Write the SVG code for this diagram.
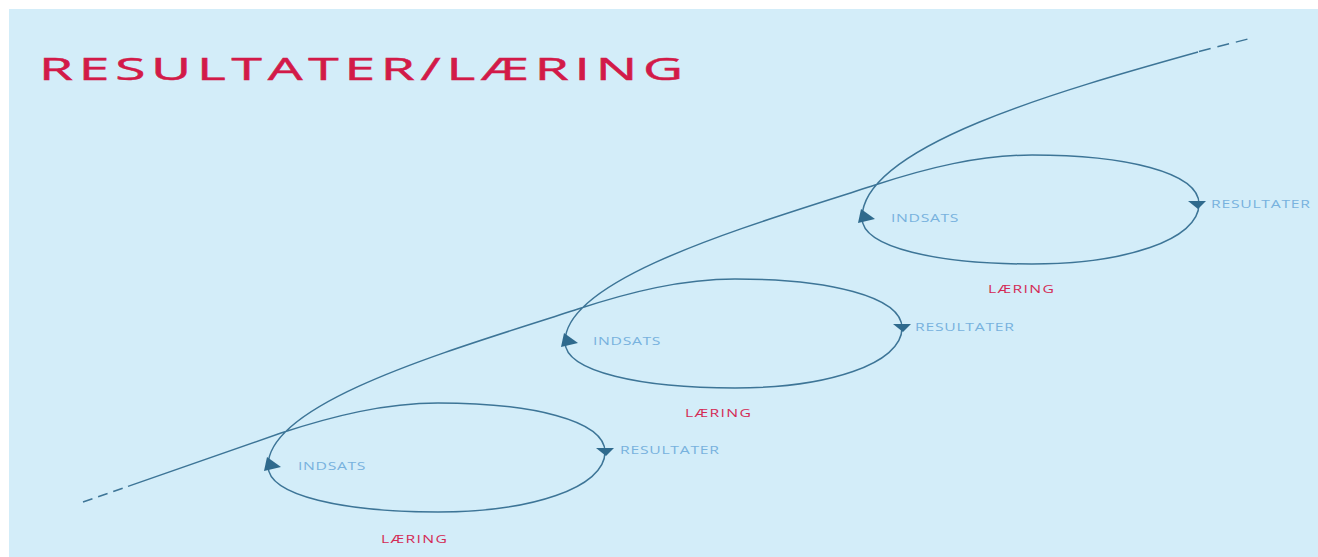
<svg xmlns="http://www.w3.org/2000/svg" xmlns:xlink="http://www.w3.org/1999/xlink" width="1318" height="557" viewBox="0 0 1318 557">
<style>
.line{fill:none;stroke:#3d7597;stroke-width:1.5}
.dash1{stroke-dasharray:10 6}
.dash2{stroke-dasharray:12 7}
.arr{fill:#2f6a8d}
.title{font-family:"Open Sans","Noto Sans","Liberation Sans",sans-serif;font-size:31.5px;fill:#d21a48;stroke:#d21a48;stroke-width:0.5}
.lbl{font-family:"Open Sans","Noto Sans","Liberation Sans",sans-serif;font-size:10.5px;fill:#78b2de}
.lr{font-family:"Open Sans","Noto Sans","Liberation Sans",sans-serif;font-size:10.5px;fill:#d42a55}
</style>
<defs>
<path id="upArrow" d="M-1,-9 L13,1 L-4,5 Z"/>
<path id="downArrow" d="M-9,-4 L9,-4 L1,4 Z"/>
</defs>
<rect x="0" y="0" width="1318" height="557" fill="#ffffff"/>
<rect x="9" y="9" width="1309" height="548" fill="#d3edf9"/>
<g id="title">
<text class="title" transform="translate(39,80) scale(1.75,1)" textLength="368" lengthAdjust="spacing">RESULTATER/LÆRING</text>
</g>
<g id="connectors">
<path class="line dash1" d="M83,502 L128,486.4"/>
<path class="line" d="M128,486.4 L281,433 C333,416 385,403 438,403 C530,403 605,420 605,452 C605,488 530,512 438,512 C345,512 268,496 268,466 C268,400 466,346 578,309 C630,292 682,279 735,279 C827,279 902,296 902,328 C902,364 827,388 735,388 C642,388 565,372 565,342 C565,276 763,222 875,185 C927,168 979,155 1032,155 C1124,155 1199,172 1199,204 C1199,240 1124,264 1032,264 C939,264 862,248 862,218 C862,146 1062,90 1198,52"/>
<path class="line dash2" d="M1199,51.5 L1248,39"/>
<use xlink:href="#upArrow" class="arr" x="268" y="466"/>
<use xlink:href="#upArrow" class="arr" x="565" y="342"/>
<use xlink:href="#upArrow" class="arr" x="862" y="218"/>
<use xlink:href="#downArrow" class="arr" x="605" y="452"/>
<use xlink:href="#downArrow" class="arr" x="902" y="328"/>
<use xlink:href="#downArrow" class="arr" x="1197" y="205"/>
</g>
<g id="loop1">
<text class="lbl" transform="translate(298,470) scale(1.5,1)" textLength="45" lengthAdjust="spacing">INDSATS</text>
<text class="lbl" transform="translate(620,454) scale(1.5,1)" textLength="66" lengthAdjust="spacing">RESULTATER</text>
<text class="lr" transform="translate(381,543) scale(1.5,1)" textLength="44" lengthAdjust="spacing">LÆRING</text>
</g>
<g id="loop2">
<text class="lbl" transform="translate(593,345) scale(1.5,1)" textLength="45" lengthAdjust="spacing">INDSATS</text>
<text class="lbl" transform="translate(915,331) scale(1.5,1)" textLength="66" lengthAdjust="spacing">RESULTATER</text>
<text class="lr" transform="translate(685,417) scale(1.5,1)" textLength="44" lengthAdjust="spacing">LÆRING</text>
</g>
<g id="loop3">
<text class="lbl" transform="translate(891,222) scale(1.5,1)" textLength="45" lengthAdjust="spacing">INDSATS</text>
<text class="lbl" transform="translate(1211,207.5) scale(1.5,1)" textLength="66" lengthAdjust="spacing">RESULTATER</text>
<text class="lr" transform="translate(988,293) scale(1.5,1)" textLength="44" lengthAdjust="spacing">LÆRING</text>
</g>
</svg>
